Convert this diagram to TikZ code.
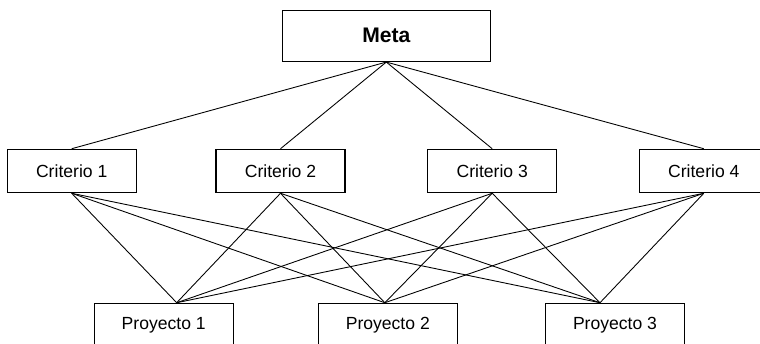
\documentclass[tikz,border=0pt]{standalone}
\usepackage{fontspec}
\setmainfont{Liberation Sans}

\begin{document}
\begin{tikzpicture}[x=0.02cm, y=-0.02cm,
    box/.style={draw, line width=0.6pt, inner sep=0pt, font=\fontsize{10}{12}\selectfont},
    crit/.style={minimum width=2.58cm, minimum height=0.87cm},
    proj/.style={minimum width=2.78cm, minimum height=0.87cm},
    link/.style={line width=0.5pt}]

    % page
    \clip (0,0) rectangle (760,344);

    % goal
    \node[box, minimum width=4.15cm, minimum height=1.03cm, font=\fontsize{12}{14}\selectfont\bfseries] (meta) at (386.3,35.8) {Meta};

    % criteria
    \node[box, crit] (c1) at (71.7,171) {Criterio 1};
    \node[box, crit] (c2) at (280.5,171) {Criterio 2};
    \node[box, crit] (c3) at (492.2,171) {Criterio 3};
    \node[box, crit] (c4) at (703.8,171) {Criterio 4};

    % projects
    \node[box, proj] (p1) at (163.7,325) {Proyecto 1};
    \node[box, proj] (p2) at (387.8,325) {Proyecto 2};
    \node[box, proj] (p3) at (615,325) {Proyecto 3};

    % where the links meet the projects
    \coordinate (p1in) at ([xshift=0.26cm]p1.north);
    \coordinate (p2in) at ([xshift=-0.06cm]p2.north);
    \coordinate (p3in) at ([xshift=-0.3cm]p3.north);

    % goal to criteria
    \draw[link] (meta.south) -- (c1.north);
    \draw[link] (meta.south) -- (c2.north);
    \draw[link] (meta.south) -- (c3.north);
    \draw[link] (meta.south) -- (c4.north);

    % criteria to projects
    \draw[link] (c1.south) -- (p1in);
    \draw[link] (c1.south) -- (p2in);
    \draw[link] (c1.south) -- (p3in);
    \draw[link] (c2.south) -- (p1in);
    \draw[link] (c2.south) -- (p2in);
    \draw[link] (c2.south) -- (p3in);
    \draw[link] (c3.south) -- (p1in);
    \draw[link] (c3.south) -- (p2in);
    \draw[link] (c3.south) -- (p3in);
    \draw[link] (c4.south) -- (p1in);
    \draw[link] (c4.south) -- (p2in);
    \draw[link] (c4.south) -- (p3in);

\end{tikzpicture}
\end{document}
